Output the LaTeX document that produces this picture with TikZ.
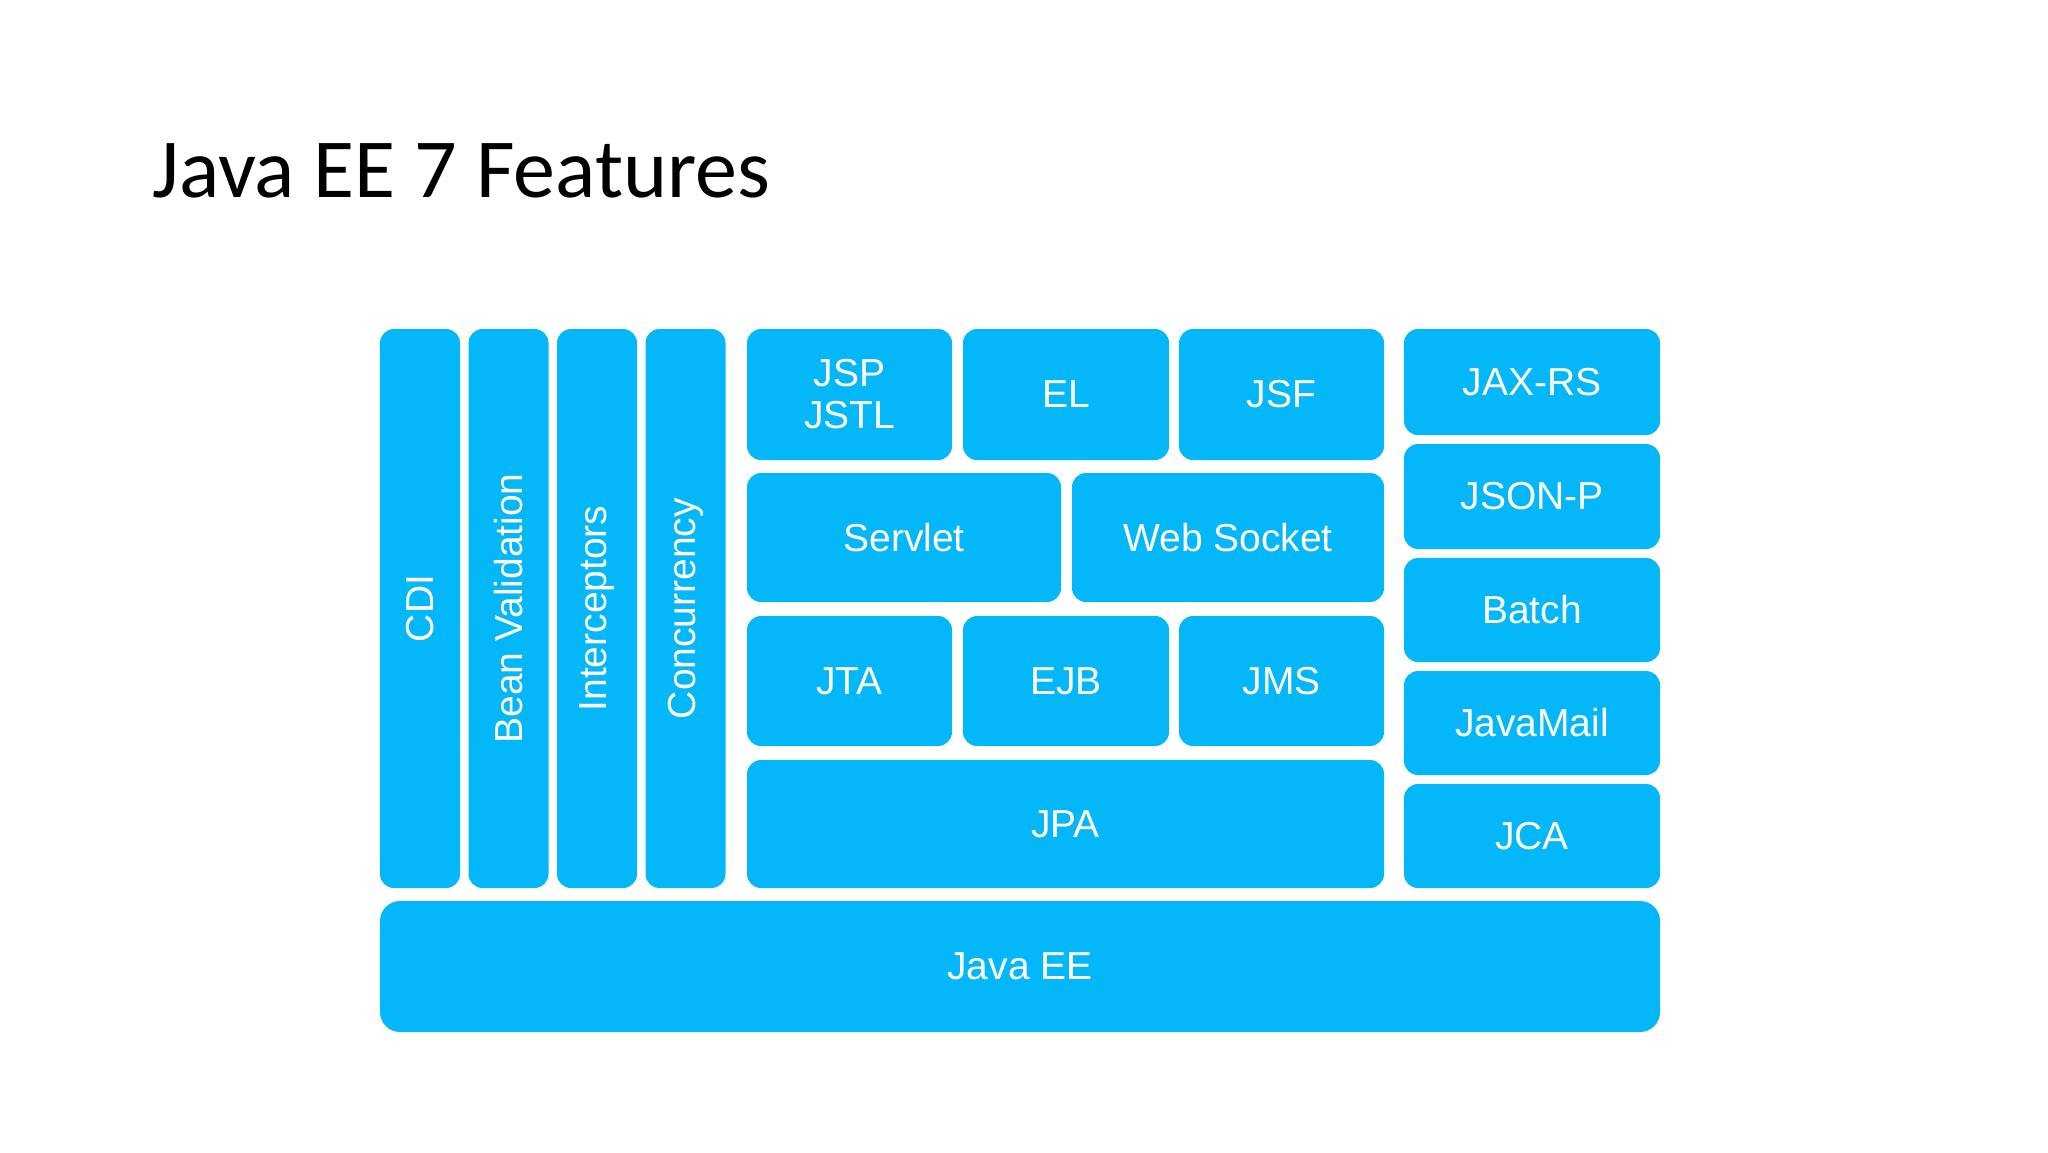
\documentclass[tikz,border=0pt]{standalone}
\usepackage{fontspec}
\setmainfont{Liberation Sans}
\newfontfamily\titlefont{Carlito}
\usetikzlibrary{fit}
\definecolor{jblue}{RGB}{4,183,248}
\tikzset{
  box/.style={fill=jblue, draw=none, rounded corners=7pt, inner sep=0pt},
  bigbox/.style={box, rounded corners=10pt},
  lbl/.style={text=white, font=\fontsize{19.5pt}{21pt}\selectfont, inner sep=0pt, align=center, anchor=center}
}
\begin{document}
\begin{tikzpicture}[x=0.5pt,y=-0.5pt]
\useasboundingbox[fill=white] (0,0) rectangle (2048,1152);
\node[anchor=base west, inner sep=0pt, font=\titlefont\fontsize{42pt}{50pt}\selectfont] (title) at (152,197) {Java EE 7 Features};
% left vertical columns
\node[box, fit={(380,329)(460,888)}] (cdi) {};
\node[box, fit={(468.5,329)(548.5,888)}] (bv) {};
\node[box, fit={(557,329)(637,888)}] (ic) {};
\node[box, fit={(645.5,329)(725.5,888)}] (cc) {};
\node[lbl, rotate=90] (cdil) at (cdi.center) {CDI};
\node[lbl, rotate=90] (bvl) at (bv.center) {Bean Validation};
\node[lbl, rotate=90] (icl) at (ic.center) {Interceptors};
\node[lbl, rotate=90] (ccl) at (cc.center) {Concurrency};
% middle grid
\node[box, fit={(747,329)(952,460)}] (jsp) {};
\node[box, fit={(963,329)(1169,460)}] (el) {};
\node[box, fit={(1179,329)(1384,460)}] (jsf) {};
\node[box, fit={(747,473)(1061,602)}] (servlet) {};
\node[box, fit={(1072,473)(1384,602)}] (ws) {};
\node[box, fit={(747,616)(952,746)}] (jta) {};
\node[box, fit={(963,616)(1169,746)}] (ejb) {};
\node[box, fit={(1179,616)(1384,746)}] (jms) {};
\node[box, fit={(747,760)(1384,888)}] (jpa) {};
\node[lbl] (jspl) at (jsp.center) {JSP\\JSTL};
\node[lbl] (ell) at (el.center) {EL};
\node[lbl] (jsfl) at (jsf.center) {JSF};
\node[lbl] (servletl) at (servlet.center) {Servlet};
\node[lbl] (wsl) at (ws.center) {Web Socket};
\node[lbl] (jtal) at (jta.center) {JTA};
\node[lbl] (ejbl) at (ejb.center) {EJB};
\node[lbl] (jmsl) at (jms.center) {JMS};
\node[lbl] (jpal) at (jpa.center) {JPA};
% right column
\node[box, fit={(1404,329)(1660,435)}] (jaxrs) {};
\node[box, fit={(1404,444)(1660,549)}] (jsonp) {};
\node[box, fit={(1404,558)(1660,662)}] (batch) {};
\node[box, fit={(1404,671)(1660,775)}] (mail) {};
\node[box, fit={(1404,784)(1660,888)}] (jca) {};
\node[lbl] (jaxrsl) at (jaxrs.center) {JAX-RS};
\node[lbl] (jsonpl) at (jsonp.center) {JSON-P};
\node[lbl] (batchl) at (batch.center) {Batch};
\node[lbl] (maill) at (mail.center) {JavaMail};
\node[lbl] (jcal) at (jca.center) {JCA};
% base
\node[bigbox, fit={(380,901)(1660,1032)}] (javaee) {};
\node[lbl] (javaeel) at (javaee.center) {Java EE};
\end{tikzpicture}
\end{document}
